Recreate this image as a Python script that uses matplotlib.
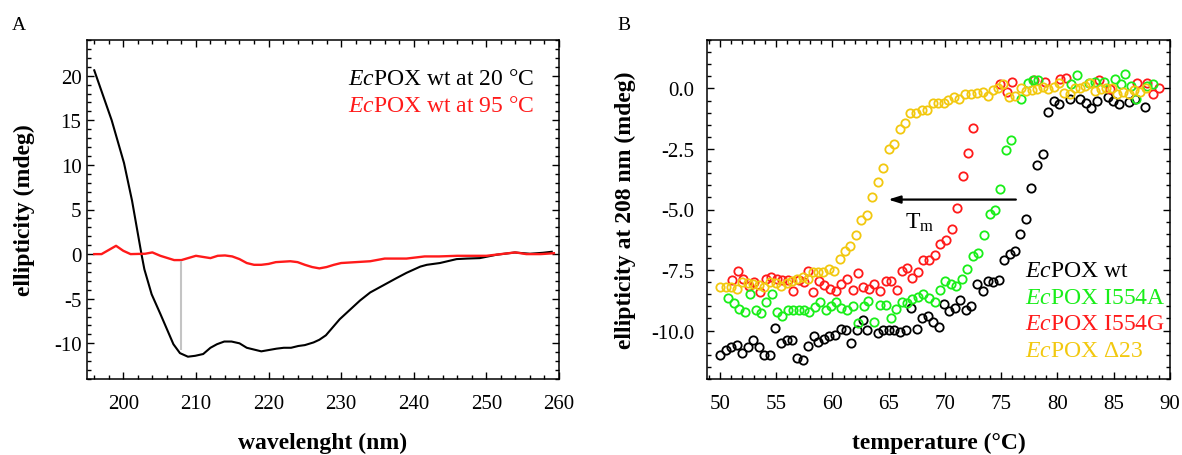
import matplotlib
matplotlib.use("Agg")
import matplotlib.pyplot as plt
from matplotlib.ticker import MultipleLocator, FormatStrFormatter

plt.rcParams['font.family'] = ['Liberation Serif', 'DejaVu Serif']
plt.rcParams['axes.unicode_minus'] = False
plt.rcParams['mathtext.fontset'] = 'custom'
plt.rcParams['mathtext.rm'] = 'Liberation Serif'
plt.rcParams['mathtext.it'] = 'Liberation Serif:italic'

# ---------------- Panel A data (CD spectra) ----------------
wl_20 = [196.0, 198.4, 200.1, 201.2, 202.5, 202.9, 203.9, 205.1, 206.9, 207.8, 208.9, 209.9,
         211.0, 212.0, 212.9, 213.9, 214.9, 216.0, 217.0, 219.0, 221.1, 222.1, 223.1, 224.1,
         225.0, 226.2, 227.0, 227.9, 229.8, 232.6, 234.0, 235.8, 237.6, 239.0, 240.9, 241.8,
         243.6, 245.9, 247.3, 249.1, 251.4, 253.9, 256.0, 257.8, 259.0]
ell_20 = [20.6, 15.0, 10.2, 6.0, 0.0, -1.7, -4.5, -6.7, -10.1, -11.1, -11.5, -11.4,
          -11.2, -10.5, -10.1, -9.8, -9.8, -10.0, -10.5, -10.9, -10.6, -10.5, -10.5, -10.3,
          -10.2, -9.9, -9.6, -9.1, -7.3, -5.2, -4.3, -3.5, -2.7, -2.1, -1.4, -1.2,
          -1.0, -0.56, -0.5, -0.45, -0.07, 0.18, 0.04, 0.15, 0.26]

wl_95 = [196, 197, 199, 200, 201, 203, 204, 205.1, 207, 208, 210, 212, 213, 214, 215, 216,
         217, 218, 219, 220, 221, 222, 223, 224, 225, 226, 227, 228, 229, 230, 232, 234,
         236, 237.5, 239, 241.5, 243.5, 246, 248, 250, 252, 254, 255.5, 257.5, 259.3]
ell_95 = [0.0, 0.0, 0.93, 0.37, 0.0, 0.04, 0.19, -0.19, -0.67, -0.67, -0.19, -0.45, -0.19,
          -0.15, -0.26, -0.56, -1.0, -1.2, -1.2, -1.1, -0.9, -0.85, -0.8, -0.9, -1.2, -1.45,
          -1.6, -1.45, -1.2, -1.0, -0.9, -0.8, -0.5, -0.5, -0.5, -0.26, -0.26, -0.19, -0.19,
          -0.19, 0.0, 0.19, 0.0, 0.0, 0.1]

guide_wl = 208
guide_top = -0.8
guide_bottom = -10.8

legend_A = [r"$\mathit{Ec}$POX wt at 20 °C", r"$\mathit{Ec}$POX wt at 95 °C"]

# ---------------- Panel B data (thermal melts at 208 nm) ----------------
T_wt = [50.0, 50.51, 50.98, 51.49, 51.98, 52.46, 52.96, 53.47, 53.94, 54.45, 54.92, 55.43,
        55.93, 56.38, 56.88, 57.36, 57.8, 58.36, 58.75, 59.25, 59.7, 60.23, 60.74, 61.21,
        61.68, 62.16, 62.7, 63.1, 64.08, 64.53, 65.04, 65.51, 66.01, 66.52, 66.99, 67.5,
        67.94, 68.48, 68.98, 69.48, 69.93, 70.4, 70.91, 71.35, 71.89, 72.33, 72.84, 73.34,
        73.82, 74.31, 74.76, 75.27, 75.74, 76.25, 76.69, 77.22, 77.67, 78.18, 78.67, 79.15,
        79.65, 80.1, 81.08, 82.03, 82.53, 83.01, 83.51, 84.46, 84.94, 85.44, 86.39, 86.92,
        87.75]
E_wt = [-10.99, -10.81, -10.69, -10.58, -10.92, -10.69, -10.41, -10.67, -10.99, -11.0, -9.89,
        -10.51, -10.40, -10.39, -11.13, -11.23, -10.65, -10.21, -10.48, -10.33, -10.21, -10.17,
        -9.93, -9.99, -10.51, -9.96, -9.57, -9.96, -10.1, -9.99, -9.99, -9.99, -10.07, -9.99,
        -9.06, -9.93, -9.48, -9.41, -9.64, -9.86, -8.90, -9.20, -9.06, -8.72, -9.13, -9.00,
        -8.07, -8.35, -7.96, -7.99, -7.92, -7.10, -6.82, -6.72, -6.03, -5.40, -4.10, -3.18,
        -2.70, -0.98, -0.50, -0.65, -0.43, -0.43, -0.59, -0.80, -0.50, -0.36, -0.50, -0.63,
        -0.56, -0.45, -0.76]

T_A = [50.74, 51.25, 51.72, 52.22, 52.67, 53.18, 53.65, 54.09, 54.6, 55.04, 55.54, 56.02,
       56.52, 57.03, 57.5, 57.94, 58.45, 58.9, 59.4, 59.88, 60.32, 60.77, 61.27, 61.81, 62.3,
       62.81, 63.19, 63.7, 64.23, 64.74, 65.19, 65.66, 66.17, 66.66, 67.11, 67.59, 68.09,
       68.59, 69.07, 69.57, 70.02, 70.52, 71.0, 71.5, 71.95, 72.45, 72.93, 73.43, 73.96,
       74.47, 74.91, 75.42, 75.86, 76.78, 77.38, 77.82, 78.27, 81.23, 81.73, 82.77, 83.3,
       84.1, 85.08, 85.65, 86.03, 86.54, 86.98, 87.96, 88.46]
E_A = [-8.65, -8.88, -9.09, -9.24, -8.51, -9.16, -9.27, -8.83, -8.48, -9.23, -9.41, -9.13,
       -9.16, -9.16, -9.13, -9.24, -9.04, -8.81, -9.16, -9.0, -8.81, -9.06, -9.17, -8.97,
       -9.68, -9.0, -8.76, -9.65, -8.93, -8.95, -9.48, -9.09, -8.81, -8.88, -8.69, -8.62,
       -8.47, -8.65, -8.81, -8.33, -7.96, -8.07, -8.17, -7.89, -7.45, -6.9, -6.79, -6.07,
       -5.18, -5.0, -4.17, -2.55, -2.15, -0.43, 0.23, 0.34, 0.33, 0.17, 0.54, 0.23, 0.26,
       0.26, 0.4, 0.19, 0.58, 0.1, -0.45, 0.1, 0.19]

T_G = [51.09, 51.57, 52.07, 52.58, 53.05, 53.56, 54.07, 54.54, 55.04, 55.54, 56.02, 56.52,
       57.03, 57.5, 57.8, 58.3, 58.81, 59.28, 59.79, 60.29, 60.77, 61.27, 61.81, 62.25,
       62.75, 63.26, 63.73, 64.23, 64.74, 65.21, 65.72, 66.2, 66.66, 67.11, 67.64, 68.03,
       68.57, 69.13, 69.57, 70.11, 70.61, 71.06, 71.56, 72.04, 72.48, 74.91, 75.51, 75.95,
       77.87, 78.91, 80.25, 80.76, 83.66, 84.64, 87.07, 87.96, 88.5, 89.06]
E_G = [-7.92, -7.52, -7.86, -8.14, -8.0, -8.42, -7.89, -7.8, -7.85, -7.93, -7.93, -8.38,
       -7.93, -8.0, -7.52, -8.42, -7.96, -8.1, -8.28, -8.38, -8.07, -7.89, -8.33, -7.62,
       -8.21, -8.3, -8.07, -8.35, -7.96, -7.96, -8.31, -7.55, -7.41, -7.82, -7.57, -7.07,
       -7.07, -6.86, -6.42, -6.28, -5.8, -4.93, -3.6, -2.66, -1.64, 0.17, -0.13, 0.25,
       0.35, 0.28, 0.37, 0.42, 0.34, -0.04, 0.21, 0.21, -0.25, 0.0]

T_D = [50.0, 50.51, 50.98, 51.49, 51.98, 52.46, 52.96, 53.47, 53.94, 54.45, 54.96, 55.43,
       55.93, 56.43, 56.88, 57.36, 57.8, 58.25, 58.69, 59.19, 59.7, 60.17, 60.68, 61.12,
       61.57, 62.07, 62.54, 63.05, 63.55, 64.08, 64.53, 65.04, 65.51, 66.01, 66.46, 66.9,
       67.41, 67.94, 68.44, 68.92, 69.37, 69.87, 70.31, 70.82, 71.29, 71.8, 72.3, 72.84,
       73.34, 73.78, 74.23, 74.71, 75.2, 75.71, 76.25, 76.75, 77.22, 77.73, 78.18, 78.67,
       79.15, 79.65, 80.1, 80.54, 81.08, 81.58, 82.03, 82.47, 82.92, 83.36, 83.87, 84.34,
       84.85, 85.29, 85.83, 86.32, 86.77, 87.3, 87.87]
E_D = [-8.21, -8.21, -8.21, -8.28, -7.99, -8.03, -8.06, -8.13, -8.2, -7.99, -8.03, -8.14,
       -8.03, -7.96, -7.86, -7.8, -7.86, -7.58, -7.59, -7.59, -7.45, -7.55, -7.04, -6.72,
       -6.52, -6.06, -5.45, -5.21, -4.48, -3.87, -3.28, -2.49, -2.29, -1.67, -1.42, -1.03,
       -1.03, -0.9, -0.91, -0.59, -0.59, -0.59, -0.48, -0.36, -0.45, -0.22, -0.22, -0.18,
       -0.14, -0.32, -0.08, 0.03, 0.17, -0.36, -0.32, 0.03, -0.11, -0.07, -0.01, 0.07,
       -0.04, 0.07, 0.21, -0.18, -0.22, 0.03, 0.03, 0.12, 0.21, -0.11, -0.04, 0.03,
       0.03, -0.25, -0.14, -0.25, -0.07, -0.15, 0.03]

legend_B = [r"$\mathit{Ec}$POX wt", r"$\mathit{Ec}$POX I554A",
            r"$\mathit{Ec}$POX I554G", r"$\mathit{Ec}$POX Δ23"]

arrow_from = (76.3, -4.59)
arrow_to = (64.95, -4.59)
tm_label = r"T$_\mathrm{m}$"
tm_pos = (66.45, -5.74)

# ---------------- Styling ----------------
C_BLACK = 'black'
C_RED = '#ff1a1a'
C_GREEN = '#19ee19'
C_YELLOW = '#f2c80f'

fig = plt.figure(figsize=(11.82, 4.56), dpi=100)
W, H = 1182, 456

def axes_px(x0, x1, y0, y1):
    return fig.add_axes([x0 / W, 1 - y1 / H, (x1 - x0) / W, (y1 - y0) / H])

axA = axes_px(87, 559, 41, 380)
axB = axes_px(707, 1170, 41, 380)

TICK_FS = 15
LABEL_FS = 17
LEG_FS = 17

for ax in (axA, axB):
    for s in ax.spines.values():
        s.set_linewidth(1.1)
    ax.tick_params(which='both', direction='in', top=True, right=True, width=1.0,
                   labelsize=TICK_FS)
    ax.tick_params(which='major', length=5)
    ax.tick_params(which='minor', length=2.8)

# ----- Panel A -----
axA.plot(wl_20, ell_20, color=C_BLACK, lw=1.5)
axA.plot(wl_95, ell_95, color=C_RED, lw=1.7)
axA.vlines(guide_wl, guide_bottom, guide_top, color='#c4c4c4', lw=1.5)
axA.set_xlim(195, 260)
axA.set_ylim(-14, 24)
axA.xaxis.set_major_locator(MultipleLocator(10))
axA.xaxis.set_minor_locator(MultipleLocator(2))
axA.yaxis.set_major_locator(MultipleLocator(5))
axA.yaxis.set_minor_locator(MultipleLocator(1))
axA.set_yticks([-10, -5, 0, 5, 10, 15, 20])
axA.tick_params(axis='x', pad=11)
axA.tick_params(axis='y', pad=4)
axA.set_xlabel("wavelenght (nm)", fontsize=LABEL_FS, fontweight='bold')
axA.set_ylabel("ellipticity (mdeg)", fontsize=LABEL_FS, fontweight='bold')
axA.xaxis.set_label_coords(0.5, -0.186)
axA.xaxis.label.set_va('center')
axA.yaxis.set_label_coords(-0.133, 0.5)
axA.yaxis.label.set_va('center')
axA.text(0.947, 0.870, legend_A[0], transform=axA.transAxes, ha='right', va='baseline',
         fontsize=LEG_FS, color=C_BLACK)
axA.text(0.947, 0.791, legend_A[1], transform=axA.transAxes, ha='right', va='baseline',
         fontsize=LEG_FS, color=C_RED)

# ----- Panel B -----
mk = dict(marker='o', linestyle='none', markerfacecolor='none', markersize=6.0,
          markeredgewidth=1.3)
axB.plot(T_wt, E_wt, markeredgecolor=C_BLACK, **mk)
axB.plot(T_G, E_G, markeredgecolor=C_RED, **mk)
axB.plot(T_A, E_A, markeredgecolor=C_GREEN, **mk)
axB.plot(T_D, E_D, markeredgecolor=C_YELLOW, **mk)
axB.set_xlim(48.85, 90)
axB.set_ylim(-12, 2)
axB.xaxis.set_major_locator(MultipleLocator(5))
axB.xaxis.set_minor_locator(MultipleLocator(1))
axB.set_yticks([-10.0, -7.5, -5.0, -2.5, 0.0])
axB.yaxis.set_minor_locator(MultipleLocator(0.5))
axB.yaxis.set_major_formatter(FormatStrFormatter('%.1f'))
axB.tick_params(axis='x', pad=11)
axB.tick_params(axis='y', pad=9)
axB.set_xlabel("temperature (°C)", fontsize=LABEL_FS, fontweight='bold')
axB.set_ylabel("ellipticity at 208 nm (mdeg)", fontsize=LABEL_FS, fontweight='bold')
axB.xaxis.set_label_coords(0.5, -0.186)
axB.xaxis.label.set_va('center')
axB.yaxis.set_label_coords(-0.177, 0.5)
axB.yaxis.label.set_va('center')

axB.annotate("", xy=arrow_to, xytext=arrow_from,
             arrowprops=dict(arrowstyle='-|>,head_length=0.7,head_width=0.22',
                             color='black', lw=1.6, shrinkA=0, shrinkB=0))
axB.text(tm_pos[0], tm_pos[1], tm_label, fontsize=LEG_FS, ha='left', va='baseline')

leg_colors = [C_BLACK, C_GREEN, C_RED, C_YELLOW]
leg_y = [0.304, 0.224, 0.147, 0.068]
for lab, c, yy in zip(legend_B, leg_colors, leg_y):
    axB.text(0.687, yy, lab, transform=axB.transAxes, ha='left', va='baseline',
             fontsize=LEG_FS, color=c)

fig.text(12 / W, 1 - 30 / H, "A", fontsize=14, ha='left', va='baseline')
fig.text(617 / W, 1 - 30 / H, "B", fontsize=14, ha='left', va='baseline')

fig.savefig("out.png", dpi=100)
